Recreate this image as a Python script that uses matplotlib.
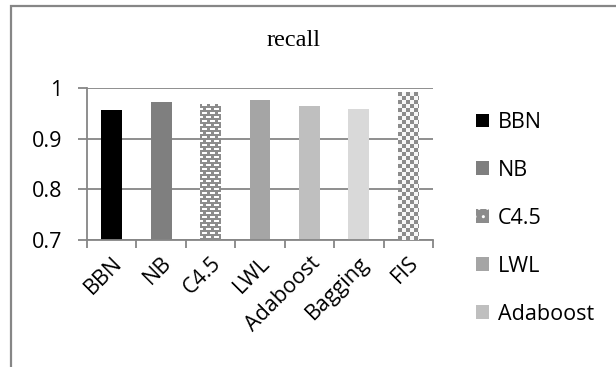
"""Recall per classifier, drawn as an Excel-style bar chart."""
import numpy as np
import matplotlib
matplotlib.use('Agg')
import matplotlib.pyplot as plt
from matplotlib.patches import Patch, Rectangle


CLASSIFIERS = ['BBN', 'NB', 'C4.5', 'LWL', 'Adaboost', 'Bagging', 'FIS']
RECALL = [0.957, 0.972, 0.968, 0.976, 0.964, 0.958, 0.992]
Y_TICKS = [0.7, 0.8, 0.9, 1.0]
Y_TICK_LABELS = ['0.7', '0.8', '0.9', '1']

# Flat fill per bar, or the name of a texture drawn over it
FILLS = ['#000000', '#7f7f7f', 'dashes', '#a5a5a5', '#bfbfbf', '#d9d9d9',
         'checker']
LEGEND_SHOWN = 5

GRID = '#868686'
FONT = ['Open Sans', 'DejaVu Sans']
FONT_SIZE = 15.5

W, H, DPI = 616, 367, 100
AX_LEFT, AX_RIGHT, AX_TOP, AX_BOTTOM = 87, 433, 88, 240
BAR_WIDTH = 0.42


def texture(kind, rows, cols):
    """Grey-level tile filled across a bar, one cell per pixel."""
    yy, xx = np.mgrid[0:rows, 0:cols]
    img = np.full((rows, cols), 0.55)
    if kind == 'dashes':
        # short white dashes, every other row shifted by half a dash
        row = yy // 4
        shift = (row % 2) * 4
        on = ((yy % 4) < 2) & (((xx + shift) % 8) >= 2) & (((xx + shift) % 8) < 7)
        img[on] = 1.0
    elif kind == 'checker':
        img = np.where(((yy // 4) + (xx // 4)) % 2 == 0, 0.55, 0.97)
    return img


def main():
    plt.rcParams['font.family'] = FONT
    fig = plt.figure(figsize=(W / DPI, H / DPI), dpi=DPI)
    ax = fig.add_axes([AX_LEFT / W, 1 - AX_BOTTOM / H,
                       (AX_RIGHT - AX_LEFT) / W, (AX_BOTTOM - AX_TOP) / H])

    # chart-area frame, running off the right and bottom edges
    fig.patches.append(Rectangle((10.5 / W, -0.2), 1.2, 1 - 6.5 / H + 0.2,
                                 transform=fig.transFigure, fill=False,
                                 edgecolor=GRID, linewidth=1.6))

    x = np.arange(len(CLASSIFIERS))
    ax.set_xlim(-0.5, len(CLASSIFIERS) - 0.5)
    ax.set_ylim(Y_TICKS[0], Y_TICKS[-1])

    colors = [f if f.startswith('#') else '#8c8c8c' for f in FILLS]
    bars = ax.bar(x, RECALL, width=BAR_WIDTH, color=colors, zorder=2)

    px_per_x = (AX_RIGHT - AX_LEFT) / len(CLASSIFIERS)
    px_per_y = (AX_BOTTOM - AX_TOP) / (Y_TICKS[-1] - Y_TICKS[0])
    for bar, fill, val in zip(bars, FILLS, RECALL):
        if fill.startswith('#'):
            continue
        x0 = bar.get_x()
        x1 = x0 + bar.get_width()
        cols = int(round(bar.get_width() * px_per_x))
        rows = int(round((val - Y_TICKS[0]) * px_per_y))
        im = ax.imshow(texture(fill, rows, cols), cmap='gray', vmin=0, vmax=1,
                       extent=(x0, x1, Y_TICKS[0], val), aspect='auto',
                       interpolation='nearest', zorder=3)
        im.set_clip_path(bar)

    ax.set_xlim(-0.5, len(CLASSIFIERS) - 0.5)
    ax.set_ylim(Y_TICKS[0], Y_TICKS[-1])

    # grid and axes in Office grey
    ax.set_yticks(Y_TICKS)
    ax.set_yticklabels(Y_TICK_LABELS)
    ax.grid(axis='y', color=GRID, linewidth=1.3, zorder=0)
    ax.set_axisbelow(True)
    for side in ('top', 'right'):
        ax.spines[side].set_visible(False)
    for side in ('left', 'bottom'):
        ax.spines[side].set_color(GRID)
        ax.spines[side].set_linewidth(1.3)
    ax.tick_params(axis='y', length=6.5, width=1.3, color=GRID, pad=11,
                   labelsize=FONT_SIZE)

    # labels under each bar, tick marks between categories
    ax.set_xticks(x)
    ax.set_xticklabels(CLASSIFIERS, rotation=45, ha='right',
                       rotation_mode='anchor')
    ax.tick_params(axis='x', which='major', length=0, pad=9,
                   labelsize=FONT_SIZE)
    ax.set_xticks(np.arange(len(CLASSIFIERS) + 1) - 0.5, minor=True)
    ax.tick_params(axis='x', which='minor', length=6, width=1.3, color=GRID)

    fig.text(294 / W, 1 - 41 / H, 'recall', family='Liberation Serif',
             fontsize=17.5, ha='center', va='center')

    handles = []
    for fill in FILLS[:LEGEND_SHOWN]:
        if fill.startswith('#'):
            handles.append(Patch(facecolor=fill, edgecolor='none'))
        else:
            handles.append(Patch(facecolor='#8c8c8c', edgecolor='white',
                                 hatch='..', linewidth=0))
    fig.legend(handles, CLASSIFIERS[:LEGEND_SHOWN], loc='upper left',
               bbox_to_anchor=(476 / W, 1 - 112 / H), frameon=False,
               fontsize=FONT_SIZE, handlelength=0.6, handleheight=0.6,
               handletextpad=0.4, labelspacing=1.25, borderaxespad=0,
               borderpad=0)

    fig.savefig('out.png', dpi=DPI)


if __name__ == '__main__':
    main()
